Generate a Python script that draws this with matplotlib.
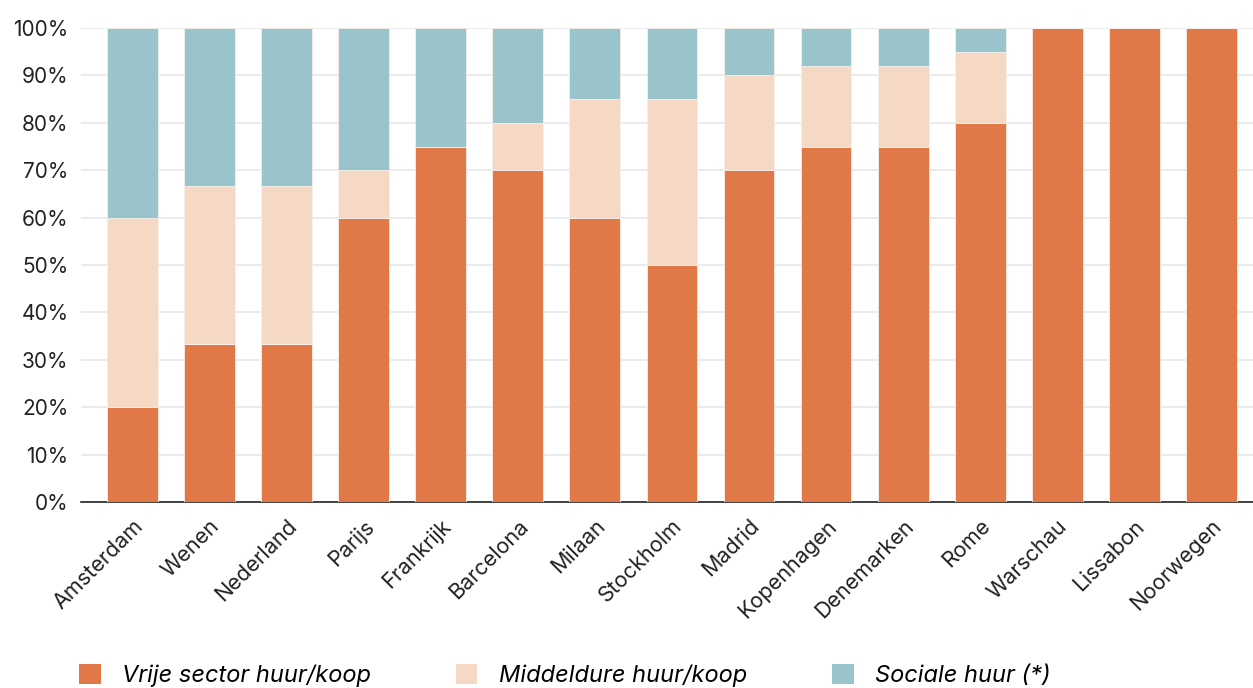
import matplotlib
matplotlib.use("Agg")
import matplotlib.pyplot as plt
import numpy as np
from matplotlib.patches import Patch
from matplotlib.ticker import PercentFormatter

# Aandeel per segment (%), gelezen uit de figuur
steden = ["Amsterdam", "Wenen", "Nederland", "Parijs", "Frankrijk", "Barcelona",
          "Milaan", "Stockholm", "Madrid", "Kopenhagen", "Denemarken", "Rome",
          "Warschau", "Lissabon", "Noorwegen"]
vrije_sector = [20, 33.3, 33.3, 60, 75, 70, 60, 50, 70, 75, 75, 80, 100, 100, 100]
middelduur = [40, 33.4, 33.4, 10, 0, 10, 25, 35, 20, 17, 17, 15, 0, 0, 0]
sociaal = [40, 33.3, 33.3, 30, 25, 20, 15, 15, 10, 8, 8, 5, 0, 0, 0]

series_labels = ["Vrije sector huur/koop", "Middeldure huur/koop", "Sociale huur (*)"]

ORANJE = "#E07848"
PERZIK = "#F5D9C5"
BLAUW = "#99C4CC"
FONT = ["Inter", "DejaVu Sans"]

plt.rcParams.update({
    "font.family": FONT,
    "font.size": 15,
})

W, H = 1253, 688
fig = plt.figure(figsize=(W / 100, H / 100), dpi=100)
ax = fig.add_axes([81 / W, 1 - 502 / H, (1253 - 81) / W, (502 - 28) / H])

x = np.arange(len(steden))
width = 0.66
bottom = np.zeros(len(steden))
for vals, col in zip([vrije_sector, middelduur, sociaal], [ORANJE, PERZIK, BLAUW]):
    v = np.array(vals, dtype=float)
    ax.bar(x, v, width, bottom=bottom, color=col, edgecolor="#f7efe9",
           linewidth=0.6, zorder=3)
    bottom += v

ax.set_xlim(-0.668, 14.54)
ax.set_ylim(0, 100)
ax.set_yticks(np.arange(0, 101, 10))
ax.yaxis.set_major_formatter(PercentFormatter(decimals=0))
ax.grid(axis="y", color="#e8e8e8", linewidth=1.2, zorder=0)
ax.set_axisbelow(True)
for s in ["top", "right", "left"]:
    ax.spines[s].set_visible(False)
ax.spines["bottom"].set_color("#222222")
ax.spines["bottom"].set_linewidth(1.2)
ax.tick_params(axis="y", length=0, pad=9, labelsize=15, colors="#222222")
ax.tick_params(axis="x", length=0, pad=10, labelsize=15.5, colors="#222222")
ax.set_xticks(x)
ax.set_xticklabels(steden, rotation=45, ha="right", rotation_mode="anchor")

handles = [Patch(facecolor=c, edgecolor="none") for c in [ORANJE, PERZIK, BLAUW]]
fig.legend(handles, series_labels, loc="lower left", bbox_to_anchor=(58 / W, -0.03),
           ncol=3, frameon=False, handlelength=0.9, handleheight=0.9,
           columnspacing=3.62, handletextpad=0.9,
           prop={"family": FONT, "style": "italic", "size": 17})

fig.savefig("out.png", dpi=100)
